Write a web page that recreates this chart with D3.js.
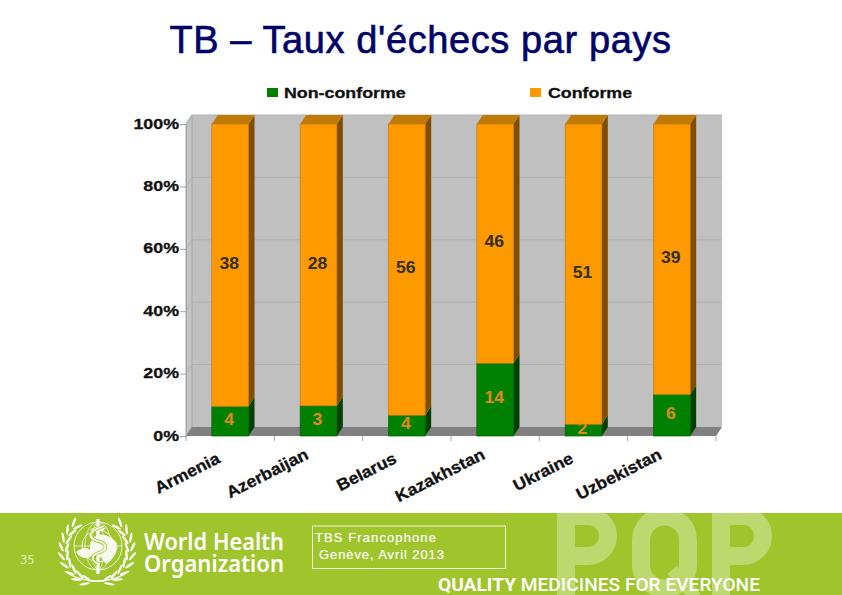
<!DOCTYPE html>
<html lang="fr">
<head>
<meta charset="UTF-8">
<title>TB - Taux d'échecs par pays</title>
<script src="https://d3js.org/d3.v7.min.js"></script>
<style>
  html, body { margin: 0; padding: 0; background: #fff; }
  svg { display: block; font-family: "Liberation Sans", Arial, sans-serif; }
</style>
</head>
<body>
<svg id="chart" width="842" height="595"></svg>
<script>
const countries = ["Armenia", "Azerbaijan", "Belarus", "Kazakhstan", "Ukraine", "Uzbekistan"];
const nonConforme = [4, 3, 4, 14, 2, 6];
const conforme = [38, 28, 56, 46, 51, 39];
const percentTicks = [0, 0.2, 0.4, 0.6, 0.8, 1];
const seriesNames = ["Non-conforme", "Conforme"];

const svg = d3.select("#chart");

// front plane of the 3D chart, the back wall sits up and to the right of it
const depthX = 6, depthY = 9;
const x = d3.scaleBand().domain(countries).range([186, 716]).paddingInner(0.585).paddingOuter(0.2925);
const y = d3.scaleLinear().domain([0, 1]).range([436, 124]);

const rows = countries.map((c, i) => ({ country: c, "Non-conforme": nonConforme[i], "Conforme": conforme[i] }));
const stacked = d3.stack().keys(seriesNames).offset(d3.stackOffsetExpand)(rows);

const colors = {
  "Non-conforme": { front: "#008000", side: "#004000", edge: "#006400", label: "#e08a14" },
  "Conforme": { front: "#ff9900", side: "#7f4e00", edge: "#c47a10", label: "#33300f" }
};

// the chart's text is a wide bold face, so stretch Liberation Sans a bit
const wide = "scale(1.15,1)";
const heavy = (sel, color) => sel.attr("font-family", "Liberation Sans").attr("font-weight", "bold")
  .attr("fill", color).attr("stroke", color).attr("stroke-width", 0.3);

svg.append("text").attr("x", 420.5).attr("y", 53).attr("text-anchor", "middle")
  .attr("font-size", 38).attr("letter-spacing", 0.6).attr("fill", "#000066")
  .attr("stroke", "#000066").attr("stroke-width", 0.6).text("TB – Taux d'échecs par pays");

// walls
const x0 = x.range()[0], x1 = x.range()[1], yBase = y(0), yTop = y(1);
const poly = pts => "M" + pts.map(p => p.join(",")).join("L") + "Z";
const walls = svg.append("g");
walls.append("path").attr("fill", "#c0c0c0")
  .attr("d", poly([[x0 + depthX, yTop - depthY], [x1 + depthX, yTop - depthY], [x1 + depthX, yBase - depthY], [x0 + depthX, yBase - depthY]]));
walls.append("path").attr("fill", "#c4c4c4").attr("stroke", "#a6a6a6")
  .attr("d", poly([[x0, yTop], [x0 + depthX, yTop - depthY], [x0 + depthX, yBase - depthY], [x0, yBase]]));
walls.selectAll("path.grid").data(percentTicks.slice(1)).join("path").attr("class", "grid")
  .attr("fill", "none").attr("stroke", "#b0b0b0").attr("stroke-width", 1)
  .attr("d", t => `M${x0},${y(t)}L${x0 + depthX},${y(t) - depthY}L${x1 + depthX},${y(t) - depthY}`);
walls.append("path").attr("fill", "#808080")
  .attr("d", poly([[x0, yBase], [x0 + depthX, yBase - depthY], [x1 + depthX, yBase - depthY], [x1, yBase]]));

// axes
const yAxis = svg.append("g").attr("transform", `translate(${x0},0)`)
  .call(d3.axisLeft(y).tickValues(percentTicks).tickFormat(d3.format(".0%")).tickSize(6));
yAxis.select(".domain").attr("stroke", "#a6a6a6");
yAxis.selectAll(".tick line").attr("stroke", "#a6a6a6");
yAxis.selectAll("text").attr("x", 0).attr("dy", "0.26em").attr("transform", "translate(-7,0) " + wide)
  .attr("font-size", 15.5).call(heavy, "#111");

const band = x.step();
svg.append("g").selectAll("line").data(d3.range(7)).join("line")
  .attr("x1", i => x0 + i * band).attr("x2", i => x0 + i * band)
  .attr("y1", yBase).attr("y2", yBase + 5).attr("stroke", "#a6a6a6");

svg.append("g").selectAll("text").data(countries).join("text")
  .attr("transform", c => `translate(${x(c) + x.bandwidth() / 2 - 9},${c.length > 7 ? 458 : 462}) rotate(-27) scale(1.07,1)`)
  .attr("text-anchor", "end").attr("font-size", 16.5)
  .call(heavy, "#111").text(c => c);

// bars
const w = x.bandwidth();
stacked.forEach(s => {
  const col = colors[s.key];
  const g = svg.append("g");
  s.forEach(d => {
    const c = d.data.country, left = x(c), top = y(d[1]), bottom = y(d[0]);
    g.append("path").attr("fill", col.side)
      .attr("d", poly([[left + w, top], [left + w + depthX, top - depthY], [left + w + depthX, bottom - depthY], [left + w, bottom]]));
    if (d[1] === 1) {
      g.append("path").attr("fill", "#c07a06")
        .attr("d", poly([[left, top], [left + depthX, top - depthY], [left + w + depthX, top - depthY], [left + w, top]]));
    }
    g.append("rect").attr("x", left).attr("y", top).attr("width", w).attr("height", bottom - top)
      .attr("fill", col.front).attr("stroke", col.edge).attr("stroke-width", 0.7);
    g.append("text").attr("transform", `translate(${left + w / 2 - 1},${(top + bottom) / 2 - 2}) scale(1.1,1)`)
      .attr("dy", "0.36em").attr("text-anchor", "middle").attr("font-size", 16)
      .call(heavy, col.label).attr("stroke-width", 0).text(d.data[s.key]);
  });
});

// legend
const legend = svg.append("g");
[[267, 284], [530, 548]].forEach(([sx, tx], i) => {
  legend.append("rect").attr("x", sx).attr("y", 88).attr("width", 11).attr("height", 9)
    .attr("fill", colors[seriesNames[i]].front);
  legend.append("text").attr("transform", `translate(${tx},98) ${wide}`).attr("font-size", 15.5)
    .call(heavy, "#111").text(seriesNames[i]);
});

// footer band
const footer = svg.append("g");
footer.append("defs").append("clipPath").attr("id", "bandClip")
  .append("rect").attr("x", 0).attr("y", 513).attr("width", 842).attr("height", 82);
footer.append("rect").attr("x", 0).attr("y", 513).attr("width", 842).attr("height", 82).attr("fill", "#9fc42c");

// big PQP watermark, cut by the top of the band
const pqp = footer.append("g").attr("clip-path", "url(#bandClip)").attr("fill", "none")
  .attr("stroke", "#bcd86f").attr("stroke-width", 18);
const letterP = "M0,100V16H22A20,20 0 0 1 22,56H0";
pqp.append("path").attr("transform", "translate(566,500)").attr("d", letterP);
pqp.append("path").attr("transform", "translate(721,500)").attr("d", letterP);
pqp.append("path").attr("d", "M641,540A23.5,23.5 0 0 1 688,540V565A23.5,23.5 0 0 1 641,565Z");
pqp.append("path").attr("stroke-width", 12).attr("d", "M672,570L696,598");

footer.append("text").attr("x", 20).attr("y", 564).attr("font-family", "DejaVu Sans")
  .attr("font-size", 11.5).attr("fill", "#e6eec0").text("35");

// WHO emblem
const logo = footer.append("g").attr("transform", "translate(98,546)").attr("fill", "none").attr("stroke", "#fff");
[24, 16, 8].forEach(r => logo.append("circle").attr("r", r).attr("stroke-width", 0.8));
[6, 13].forEach(rx => logo.append("ellipse").attr("rx", rx).attr("ry", 24).attr("stroke-width", 0.6));
logo.append("line").attr("x1", -24).attr("x2", 24).attr("stroke-width", 0.7);
logo.append("path").attr("fill", "#fff").attr("stroke", "none").attr("opacity", 0.9)
  .attr("d", "M-22,6C-16,2 -12,0 -8,4C-6,-2 -8,-8 -2,-10C4,-14 12,-10 18,-4C22,2 16,14 8,18C4,12 0,6 -6,10C-12,14 -18,12 -22,6Z");
logo.append("path").attr("fill", "#fff").attr("stroke", "none").attr("opacity", 0.9)
  .attr("d", "M-8,-16C-4,-20 4,-20 8,-18C4,-14 -2,-12 -8,-16Z");
logo.append("line").attr("y1", -27).attr("y2", 28).attr("stroke-width", 3.2);
logo.append("path").attr("stroke-width", 3.4).attr("stroke", "#9fc42c")
  .attr("d", "M6,-20C-11,-14 -11,-8 0,-5C10,-2 10,4 0,7C-8,10 -6,15 0,18");
logo.append("path").attr("stroke-width", 1.8)
  .attr("d", "M6,-20C-11,-14 -11,-8 0,-5C10,-2 10,4 0,7C-8,10 -6,15 0,18");
// laurel branches on both sides
const wreath = footer.append("g").attr("transform", "translate(97,550)");
[-1, 1].forEach(side => {
  d3.range(9).forEach(i => {
    const deg = i * 15 - 50;
    const a = deg * Math.PI / 180;
    [0, 1].forEach(row => {
      const r = 30 + row * 6;
      wreath.append("ellipse").attr("rx", 1.2).attr("ry", 5.2).attr("fill", "#fff")
        .attr("transform", `translate(${side * r * Math.cos(a)},${r * Math.sin(a)}) rotate(${side * (deg + (row ? 30 : -15))})`);
    });
  });
  wreath.append("path").attr("fill", "none").attr("stroke", "#fff").attr("stroke-width", 1.2)
    .attr("d", `M${side * 28},24Q${side * 14},32 ${-side * 8},31`);
});

footer.append("text").attr("x", 144).attr("y", 550).attr("font-family", "Noto Sans").attr("font-weight", 600)
  .attr("font-size", 24).attr("textLength", 140).attr("lengthAdjust", "spacingAndGlyphs").attr("fill", "#fff").text("World Health");
footer.append("text").attr("x", 144).attr("y", 572).attr("font-family", "Noto Sans").attr("font-weight", 600)
  .attr("font-size", 24).attr("textLength", 140).attr("lengthAdjust", "spacingAndGlyphs").attr("fill", "#fff").text("Organization");

footer.append("rect").attr("x", 312.5).attr("y", 526).attr("width", 193).attr("height", 42.5)
  .attr("fill", "none").attr("stroke", "#f4f7d8").attr("stroke-width", 1);
footer.append("text").attr("x", 315).attr("y", 542).attr("font-size", 13).attr("letter-spacing", 1.1)
  .attr("fill", "#fff").attr("stroke", "#fff").attr("stroke-width", 0.2).text("TBS Francophone");
footer.append("text").attr("x", 319).attr("y", 559).attr("font-size", 13).attr("letter-spacing", 0.9)
  .attr("fill", "#fff").attr("stroke", "#fff").attr("stroke-width", 0.2).text("Genève, Avril 2013");

const tagline = footer.append("text").attr("x", 438).attr("y", 591).attr("font-family", "Roboto")
  .attr("font-size", 18).attr("textLength", 322).attr("lengthAdjust", "spacingAndGlyphs").attr("fill", "#fff");
tagline.append("tspan").attr("font-weight", "bold").text("QUALITY ");
tagline.append("tspan").attr("font-weight", 500).text("MEDICINES FOR EVERYONE");
</script>
</body>
</html>
